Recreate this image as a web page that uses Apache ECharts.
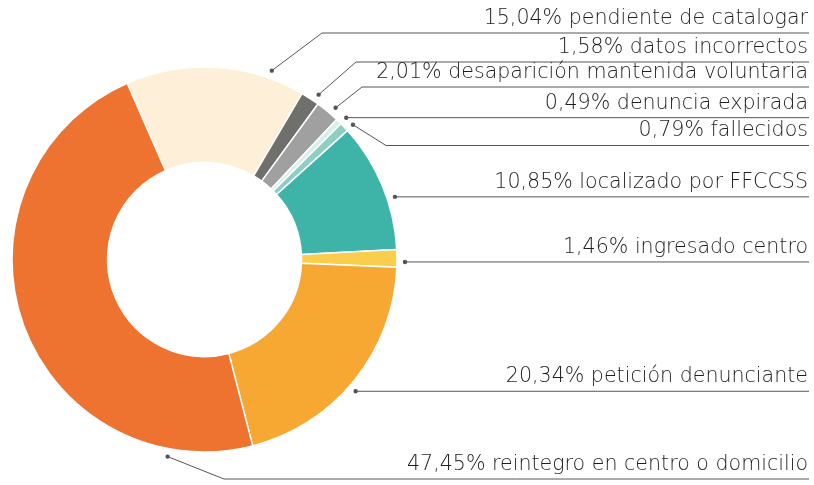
<!DOCTYPE html>
<html>
<head>
<meta charset="utf-8">
<script src="https://cdn.jsdelivr.net/npm/echarts@6/dist/echarts.min.js"></script>
<style>
  html, body { margin: 0; padding: 0; background: #ffffff; }
  #chart { width: 814px; height: 485px; }
</style>
</head>
<body>
<div id="chart"></div>
<script>
// Case outcomes, share of total (%)
const categories = [
  'pendiente de catalogar',
  'datos incorrectos',
  'desaparición mantenida voluntaria',
  'denuncia expirada',
  'fallecidos',
  'localizado por FFCCSS',
  'ingresado centro',
  'petición denunciante',
  'reintegro en centro o domicilio'
];
const shares = [15.04, 1.58, 2.01, 0.49, 0.79, 10.85, 1.46, 20.34, 47.45];
const sliceColors = ['#FEF0D8', '#6F6F6C', '#A0A0A0', '#D8EFEA', '#8DCFC3', '#3DB4A7', '#FACE4D', '#F6A833', '#EE7330'];

// Leader layout: where along each slice the leader starts (0..1 of its arc),
// the y of the rule under each label (null = level with the leader start),
// and the x where a slanted leader meets its rule.
const leaderAlong = [0.8, 0.75, 0.65, 0.92, 0.93, 0.61, 0.7, 0.53, 0.147];
const ruleY = [33, 62, 87, null, 145.5, null, null, null, 479];
const bendX = [322, 356, 362, null, 386, null, null, null, 224];
const ruleEndX = 809;
const labelRightX = 808;

const fmtShare = v => v.toFixed(2).replace('.', ',') + '%';

const chart = echarts.init(document.getElementById('chart'), null, { renderer: 'canvas' });

function leaderStart(i) {
  const lay = chart.getModel().getSeriesByIndex(0).getData().getItemLayout(i);
  const a = lay.startAngle + (lay.endAngle - lay.startAngle) * leaderAlong[i];
  const r = lay.r + 8;
  return [lay.cx + r * Math.cos(a), lay.cy + r * Math.sin(a)];
}

function ruleLevel(i, start) {
  return ruleY[i] == null ? start[1] : ruleY[i];
}

chart.setOption({
  animation: false,
  series: [{
    type: 'pie',
    center: [204.5, 259.5],
    radius: [97, 192.5],
    startAngle: 113.7,
    clockwise: true,
    avoidLabelOverlap: false,
    itemStyle: { borderColor: '#ffffff', borderWidth: 1.5 },
    label: {
      show: true,
      position: 'outside',
      fontFamily: '"DejaVu Sans"',
      fontWeight: 200,
      fontSize: 20.6,
      color: '#1e1e1e',
      formatter: p => fmtShare(shares[p.dataIndex]) + ' ' + categories[p.dataIndex]
    },
    labelLine: {
      show: true,
      smooth: false,
      lineStyle: { color: '#555555', width: 1 }
    },
    labelLayout: function (p) {
      const i = p.dataIndex;
      const s = leaderStart(i);
      const y = ruleLevel(i, s);
      const bend = bendX[i] == null ? s : [bendX[i], y];
      return {
        x: labelRightX,
        y: y - 14.5,
        align: 'right',
        verticalAlign: 'middle',
        labelLinePoints: [s, bend, [ruleEndX, y]]
      };
    },
    emphasis: { disabled: true },
    data: categories.map((name, i) => ({
      name: name,
      value: shares[i],
      itemStyle: { color: sliceColors[i] }
    }))
  }]
});

// small dots where each leader leaves the ring
chart.setOption({
  graphic: shares.map((v, i) => {
    const s = leaderStart(i);
    return {
      type: 'circle',
      shape: { cx: s[0], cy: s[1], r: 2.2 },
      style: { fill: '#555555' },
      silent: true
    };
  })
});
</script>
</body>
</html>
